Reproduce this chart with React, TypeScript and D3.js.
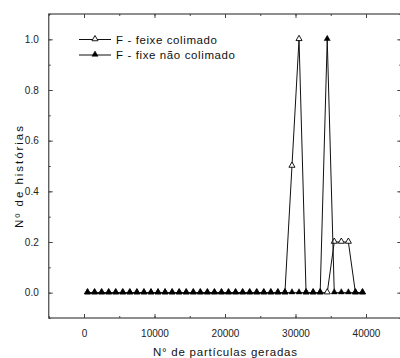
import React, { useEffect, useRef } from 'react'
import * as d3 from 'd3'

const particulas = [
  500, 1500, 2500, 3500, 4500, 5500, 6500, 7500, 8500, 9500,
  10500, 11500, 12500, 13500, 14500, 15500, 16500, 17500, 18500, 19500,
  20500, 21500, 22500, 23500, 24500, 25500, 26500, 27500, 28500, 29500,
  30500, 31500, 32500, 33500, 34500, 35500, 36500, 37500, 38500, 39500,
]
const feixeColimado = [
  0, 0, 0, 0, 0, 0, 0, 0, 0, 0,
  0, 0, 0, 0, 0, 0, 0, 0, 0, 0,
  0, 0, 0, 0, 0, 0, 0, 0, 0, 0.5,
  1.0, 0, 0, 0, 0, 0.2, 0.2, 0.2, 0, 0,
]
const fixeNaoColimado = [
  0, 0, 0, 0, 0, 0, 0, 0, 0, 0,
  0, 0, 0, 0, 0, 0, 0, 0, 0, 0,
  0, 0, 0, 0, 0, 0, 0, 0, 0, 0,
  0, 0, 0, 0, 1.0, 0, 0, 0, 0, 0,
]
const xTicks = [0, 10000, 20000, 30000, 40000]
const yTicks = [0, 0.2, 0.4, 0.6, 0.8, 1.0]
const legendLabels = ['F - feixe colimado', 'F - fixe não colimado']

export default function App() {
  const svgRef = useRef<SVGSVGElement>(null)

  useEffect(() => {
    if (!svgRef.current) return
    const svg = d3.select(svgRef.current)
    svg.selectAll('*').remove()

    const font = '"Liberation Sans", Arial, sans-serif'
    const axisColor = '#444'

    const x = d3.scaleLinear().domain([-5000, 45000]).range([48.75, 401.25])
    const y = d3.scaleLinear().domain([-0.1, 1.1]).range([318, 14])
    const [x0, x1] = x.range()
    const [yb, yt] = y.range()

    // minor ticks (5000 / 0.1 steps)
    const xMinor = d3.range(-5000, 45001, 5000)
    const yMinor = d3.range(-0.1, 1.15, 0.1)

    // bottom axis, ticks inward, labels below
    const bottom = svg.append('g').attr('transform', `translate(0,${yb})`)
      .call(d3.axisBottom(x).tickValues(xTicks).tickSize(-4).tickPadding(12).tickFormat(d3.format('d')))
    bottom.select('.domain').remove()
    bottom.selectAll('line').attr('stroke', axisColor)
    bottom.selectAll('text').attr('font-family', font).attr('font-size', 10).attr('fill', '#222')

    svg.append('g').attr('transform', `translate(0,${yb})`)
      .call(d3.axisBottom(x).tickValues(xMinor).tickSize(-2).tickFormat(() => ''))
      .call(g => g.select('.domain').remove())
      .selectAll('line').attr('stroke', axisColor)

    // top axis, ticks only
    svg.append('g').attr('transform', `translate(0,${yt})`)
      .call(d3.axisTop(x).tickValues(xTicks).tickSize(-4).tickFormat(() => ''))
      .call(g => g.select('.domain').remove())
      .selectAll('line').attr('stroke', axisColor)
    svg.append('g').attr('transform', `translate(0,${yt})`)
      .call(d3.axisTop(x).tickValues(xMinor).tickSize(-2).tickFormat(() => ''))
      .call(g => g.select('.domain').remove())
      .selectAll('line').attr('stroke', axisColor)

    // left axis
    const left = svg.append('g').attr('transform', `translate(${x0},0)`)
      .call(d3.axisLeft(y).tickValues(yTicks).tickSize(-4).tickPadding(10).tickFormat(d3.format('.1f')))
    left.select('.domain').remove()
    left.selectAll('line').attr('stroke', axisColor)
    left.selectAll('text').attr('font-family', font).attr('font-size', 10).attr('fill', '#222')

    svg.append('g').attr('transform', `translate(${x0},0)`)
      .call(d3.axisLeft(y).tickValues(yMinor).tickSize(-2).tickFormat(() => ''))
      .call(g => g.select('.domain').remove())
      .selectAll('line').attr('stroke', axisColor)

    // right axis, ticks only
    svg.append('g').attr('transform', `translate(${x1},0)`)
      .call(d3.axisRight(y).tickValues(yTicks).tickSize(-4).tickFormat(() => ''))
      .call(g => g.select('.domain').remove())
      .selectAll('line').attr('stroke', axisColor)
    svg.append('g').attr('transform', `translate(${x1},0)`)
      .call(d3.axisRight(y).tickValues(yMinor).tickSize(-2).tickFormat(() => ''))
      .call(g => g.select('.domain').remove())
      .selectAll('line').attr('stroke', axisColor)

    // frame
    svg.append('rect')
      .attr('x', x0).attr('y', yt)
      .attr('width', x1 - x0).attr('height', yb - yt)
      .attr('fill', 'none').attr('stroke', axisColor).attr('stroke-width', 1.2)

    const tri = d3.symbol().type(d3.symbolTriangle).size(16)

    const drawSeries = (values: number[], filled: boolean) => {
      const pts = particulas.map((p, i) => ({ p, v: values[i] }))
      const line = d3.line<{ p: number; v: number }>().x(d => x(d.p)).y(d => y(d.v))
      svg.append('path').datum(pts)
        .attr('fill', 'none').attr('stroke', '#111').attr('stroke-width', 1)
        .attr('d', line)
      svg.append('g').selectAll('path').data(pts).enter().append('path')
        .attr('transform', d => `translate(${x(d.p)},${y(d.v) - 0.5})`)
        .attr('d', tri)
        .attr('fill', filled ? '#000' : '#fff')
        .attr('stroke', '#000').attr('stroke-width', filled ? 0.5 : 0.9)
    }
    drawSeries(feixeColimado, false)
    drawSeries(fixeNaoColimado, true)

    // legend
    const lg = svg.append('g')
    legendLabels.forEach((label, i) => {
      const ly = 39.5 + i * 15.5
      lg.append('line').attr('x1', 79).attr('x2', 111).attr('y1', ly).attr('y2', ly)
        .attr('stroke', '#111').attr('stroke-width', 1)
      lg.append('path').attr('transform', `translate(95,${ly - 0.5})`).attr('d', tri)
        .attr('fill', i === 0 ? '#fff' : '#000').attr('stroke', '#000').attr('stroke-width', i === 0 ? 0.9 : 0.5)
      lg.append('text').attr('x', 116).attr('y', ly + 4)
        .attr('font-family', font).attr('font-size', 11.5).attr('fill', '#111')
        .attr('textLength', i === 0 ? 101 : 119).attr('lengthAdjust', 'spacing')
        .text(label)
    })

    // axis titles
    svg.append('text').attr('x', 153).attr('y', 356)
      .attr('font-family', font).attr('font-size', 11.5).attr('fill', '#111')
      .attr('textLength', 144).attr('lengthAdjust', 'spacing')
      .text('N° de partículas geradas')

    svg.append('text')
      .attr('transform', 'translate(23,228) rotate(-90)')
      .attr('font-family', font).attr('font-size', 11.5).attr('fill', '#111')
      .attr('textLength', 102).attr('lengthAdjust', 'spacing')
      .text('Nº de histórias')
  }, [])

  return (
    <svg ref={svgRef} width={400} height={358}
      style={{ position: 'absolute', left: 0, top: 0, background: '#fff' }} />
  )
}
